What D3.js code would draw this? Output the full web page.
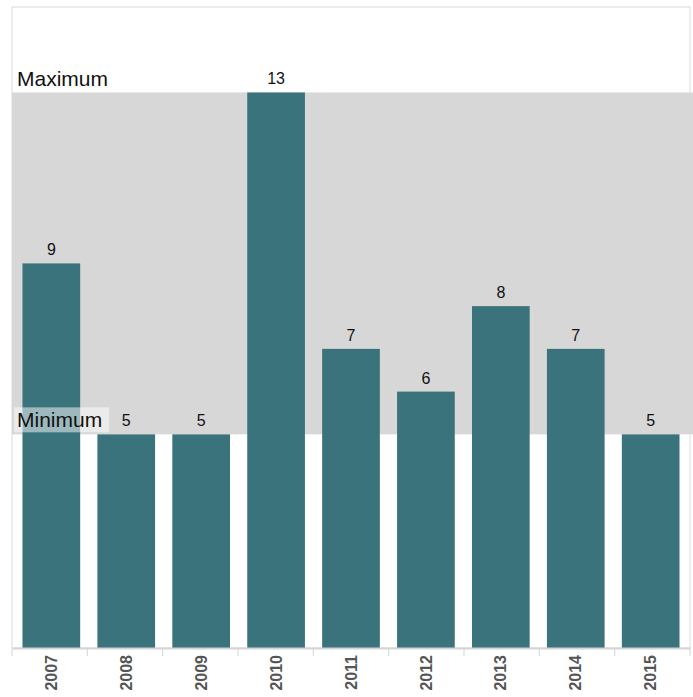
<!DOCTYPE html>
<html>
<head>
<meta charset="utf-8">
<script src="https://cdn.jsdelivr.net/npm/d3@7"></script>
<style>
  body { margin: 0; background: #fff; }
  svg { display: block; font-family: Arial, "Liberation Sans", sans-serif; }
</style>
</head>
<body>
<div id="chart"></div>
<script>
var years = ["2007", "2008", "2009", "2010", "2011", "2012", "2013", "2014", "2015"];
var counts = [9, 5, 5, 13, 7, 6, 8, 7, 5];
var bandMin = 5;
var bandMax = 13;

var width = 693, height = 697;
var margin = {top: 7, right: 3, bottom: 49, left: 12};

var svg = d3.select("#chart").append("svg")
    .attr("width", width)
    .attr("height", height);

var x = d3.scaleBand()
    .domain(years)
    .range([margin.left, width - margin.right])
    .paddingInner(0.23)
    .paddingOuter(0.14);

var y = d3.scaleLinear()
    .domain([0, 15])
    .range([height - margin.bottom, margin.top]);

// frame
svg.append("rect")
    .attr("x", margin.left)
    .attr("y", margin.top)
    .attr("width", width - margin.right - margin.left)
    .attr("height", y(0) - margin.top)
    .style("fill", "none")
    .style("stroke", "#dadada")
    .style("stroke-width", 1);

// reference band between min and max
svg.append("rect")
    .attr("x", margin.left)
    .attr("y", y(bandMax))
    .attr("width", width - margin.left)
    .attr("height", y(bandMin) - y(bandMax))
    .style("fill", "#d7d7d7");

svg.selectAll("rect.bar").data(counts)
    .enter().append("rect")
    .attr("class", "bar")
    .attr("x", function(d, i) { return x(years[i]); })
    .attr("y", function(d) { return y(d); })
    .attr("width", x.bandwidth())
    .attr("height", function(d) { return y(0) - y(d); })
    .style("fill", "#3a737b");

svg.selectAll("text.value").data(counts)
    .enter().append("text")
    .attr("class", "value")
    .attr("x", function(d, i) { return x(years[i]) + x.bandwidth() / 2; })
    .attr("y", function(d) { return y(d) - 8; })
    .style("text-anchor", "middle")
    .style("font-size", "16px")
    .style("fill", "#111")
    .text(function(d) { return d; });

// band labels
svg.append("text")
    .attr("x", 17)
    .attr("y", y(bandMax) - 6)
    .style("font-size", "21px")
    .style("fill", "#111")
    .text("Maximum");

svg.append("rect")
    .attr("x", 14)
    .attr("y", y(bandMin) - 27)
    .attr("width", 95)
    .attr("height", 25)
    .style("fill", "#fff")
    .style("fill-opacity", 0.5);

svg.append("text")
    .attr("x", 17)
    .attr("y", y(bandMin) - 7)
    .style("font-size", "21px")
    .style("fill", "#111")
    .text("Minimum");

// x axis
var xAxis = d3.axisBottom(x).tickSize(0).tickPadding(0);
var gx = svg.append("g")
    .attr("class", "x axis")
    .attr("transform", "translate(0," + y(0) + ")")
    .call(xAxis);

gx.select(".domain").style("stroke", "#d4d4d4").style("stroke-width", 2);

gx.selectAll(".tick text")
    .attr("transform", "rotate(-90)")
    .attr("x", -7)
    .attr("y", 0)
    .attr("dy", "0.35em")
    .style("text-anchor", "end")
    .style("font-size", "16px")
    .style("font-weight", "bold")
    .style("fill", "#555")
    .style("font-family", "Arial, 'Liberation Sans', sans-serif");

// separators between categories
var seps = d3.range(years.length + 1).map(function(i) { return margin.left + i * (width - margin.right - margin.left) / years.length; });
gx.selectAll("line.sep").data(seps)
    .enter().append("line")
    .attr("class", "sep")
    .attr("x1", function(d) { return d; })
    .attr("x2", function(d) { return d; })
    .attr("y1", 1)
    .attr("y2", 8)
    .style("stroke", "#d4d4d4")
    .style("stroke-width", 1);
</script>
</body>
</html>
